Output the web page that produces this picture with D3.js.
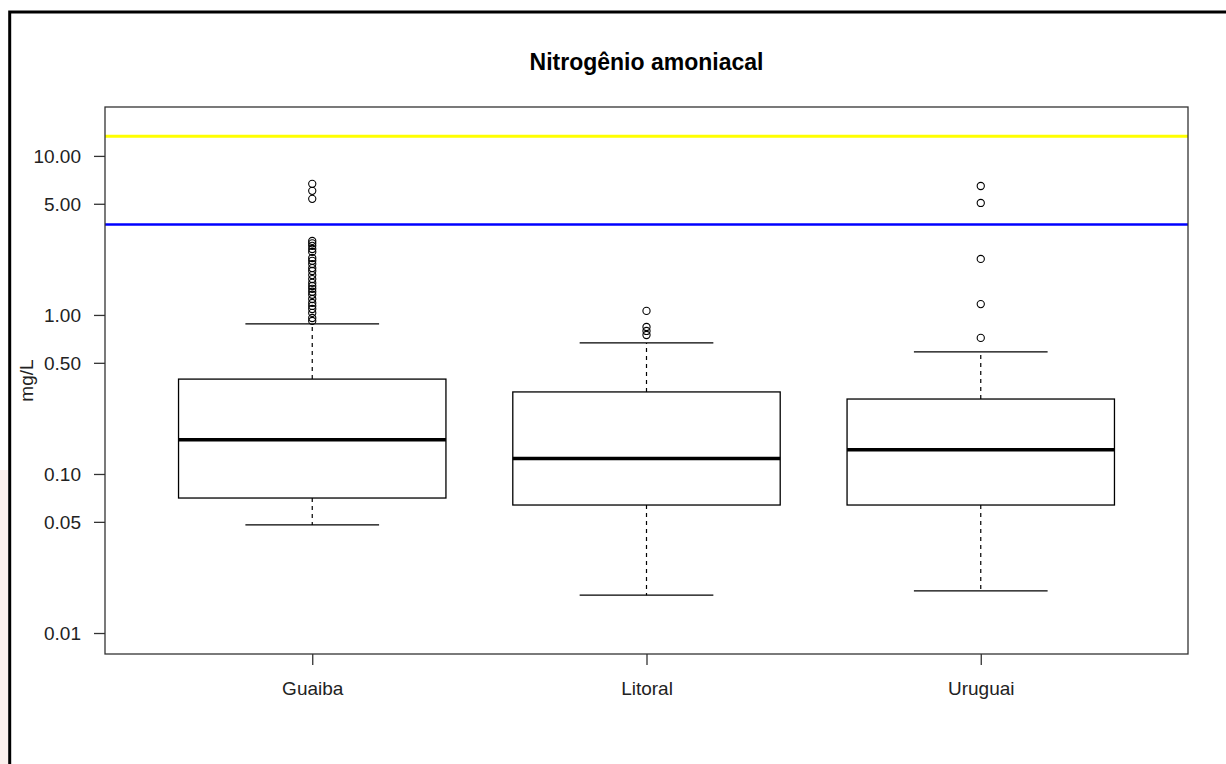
<!DOCTYPE html>
<html>
<head>
<meta charset="utf-8">
<script src="https://cdn.jsdelivr.net/npm/d3@7"></script>
<style>
  html, body { margin: 0; padding: 0; background: #ffffff; }
  svg { display: block; font-family: "Liberation Sans", Arial, sans-serif; }
</style>
</head>
<body>
<svg id="chart" width="1226" height="764"></svg>
<script>
// Sampling regions
const categories = ["Guaiba", "Litoral", "Uruguai"];

// Five-number summaries (mg/L): lower whisker, Q1, median, Q3, upper whisker
const whiskerLow  = [0.0478, 0.0173, 0.0184];
const quartile1   = [0.0706, 0.0638, 0.0638];
const medians     = [0.164, 0.125, 0.142];
const quartile3   = [0.395, 0.328, 0.296];
const whiskerHigh = [0.878, 0.667, 0.585];

// Outlying observations per region (mg/L)
const outliersGuaiba  = [6.67, 6.03, 5.37, 2.92, 2.82, 2.72, 2.60, 2.49, 2.28, 2.19, 2.09,
                         1.97, 1.89, 1.78, 1.68, 1.59, 1.52, 1.46, 1.40, 1.34, 1.26, 1.19,
                         1.14, 1.09, 1.03, 0.957, 0.917];
const outliersLitoral = [1.06, 0.84, 0.793, 0.748];
const outliersUruguai = [6.47, 5.06, 2.25, 1.17, 0.717];
const outliers = [outliersGuaiba, outliersLitoral, outliersUruguai];

// Reference limits (mg/L)
const limitValues = [13.3, 3.7];
const limitColors = ["#ffff00", "#0000ff"];
const limitWidths = [3, 2.5];

// Axis
const yTickValues = [0.01, 0.05, 0.1, 0.5, 1, 5, 10];
const yDomain = [0.00738, 20.3];

const title = "Nitrogênio amoniacal";
const yLabel = "mg/L";

const svg = d3.select("#chart");
const plot = { left: 105, top: 107, right: 1188, bottom: 654 };

// Page frame (top and left rules) and faint strip at the far left
svg.append("rect").attr("x", 0).attr("y", 470).attr("width", 8).attr("height", 294)
  .attr("fill", "#fbf0ed");
svg.append("path").attr("d", "M9.7,764 V12 H1226")
  .attr("fill", "none").attr("stroke", "#000").attr("stroke-width", 3);

const x = d3.scaleLinear().domain([0.38, 3.62]).range([plot.left, plot.right]);
const y = d3.scaleLog().domain(yDomain).range([plot.bottom, plot.top]);
const boxHalf = (x(1.4) - x(1)) ;
const capHalf = boxHalf / 2;

// Title
svg.append("text")
  .attr("x", (plot.left + plot.right) / 2).attr("y", 70)
  .attr("text-anchor", "middle").attr("font-weight", "bold")
  .attr("font-size", 23).attr("fill", "#000").text(title);

// Y axis
const yAxis = d3.axisLeft(y).tickValues(yTickValues)
  .tickFormat(d3.format(".2f")).tickSize(11).tickPadding(13).tickSizeOuter(0);
const gy = svg.append("g").attr("transform", `translate(${plot.left},0)`).call(yAxis);
gy.select(".domain").remove();
gy.selectAll(".tick line").attr("stroke", "#333").attr("stroke-width", 1.3);
gy.selectAll(".tick text").attr("font-size", 19).attr("fill", "#222")
  .attr("font-family", "Liberation Sans, Arial, sans-serif").attr("dy", "0.34em");

// X axis
const xAxis = d3.axisBottom(x).tickValues([1, 2, 3])
  .tickFormat((d, i) => categories[i]).tickSize(11).tickPadding(16).tickSizeOuter(0);
const gx = svg.append("g").attr("transform", `translate(0,${plot.bottom})`).call(xAxis);
gx.select(".domain").remove();
gx.selectAll(".tick line").attr("stroke", "#333").attr("stroke-width", 1.3);
gx.selectAll(".tick text").attr("font-size", 19).attr("fill", "#222")
  .attr("font-family", "Liberation Sans, Arial, sans-serif").attr("dy", "0.72em");

// Y label
svg.append("text")
  .attr("transform", `translate(33,${(plot.top + plot.bottom) / 2}) rotate(-90)`)
  .attr("text-anchor", "middle").attr("font-size", 19).attr("fill", "#222")
  .text(yLabel);

// Clip region for marks inside the plot
svg.append("clipPath").attr("id", "plotclip").append("rect")
  .attr("x", plot.left).attr("y", plot.top)
  .attr("width", plot.right - plot.left).attr("height", plot.bottom - plot.top);
const inner = svg.append("g").attr("clip-path", "url(#plotclip)");

// Boxes
categories.forEach((c, i) => {
  const cx = x(i + 1);
  const g = inner.append("g");
  // whiskers
  g.append("line").attr("x1", cx).attr("x2", cx)
    .attr("y1", y(quartile3[i])).attr("y2", y(whiskerHigh[i]))
    .attr("stroke", "#000").attr("stroke-width", 1.2).attr("stroke-dasharray", "4,4");
  g.append("line").attr("x1", cx).attr("x2", cx)
    .attr("y1", y(quartile1[i])).attr("y2", y(whiskerLow[i]))
    .attr("stroke", "#000").attr("stroke-width", 1.2).attr("stroke-dasharray", "4,4");
  // caps
  [whiskerHigh[i], whiskerLow[i]].forEach(v => {
    g.append("line").attr("x1", cx - capHalf).attr("x2", cx + capHalf)
      .attr("y1", y(v)).attr("y2", y(v)).attr("stroke", "#000").attr("stroke-width", 1.3);
  });
  // box
  g.append("rect").attr("x", cx - boxHalf).attr("y", y(quartile3[i]))
    .attr("width", boxHalf * 2).attr("height", y(quartile1[i]) - y(quartile3[i]))
    .attr("fill", "#fff").attr("stroke", "#000").attr("stroke-width", 1.3);
  // median
  g.append("line").attr("x1", cx - boxHalf).attr("x2", cx + boxHalf)
    .attr("y1", y(medians[i])).attr("y2", y(medians[i]))
    .attr("stroke", "#000").attr("stroke-width", 3.6);
  // outliers
  g.selectAll("circle.out").data(outliers[i]).join("circle")
    .attr("class", "out").attr("cx", cx).attr("cy", d => y(d)).attr("r", 3.6)
    .attr("fill", "none").attr("stroke", "#000").attr("stroke-width", 1.1);
});

// Reference limit lines
limitValues.forEach((v, i) => {
  inner.append("line").attr("x1", plot.left).attr("x2", plot.right)
    .attr("y1", y(v)).attr("y2", y(v))
    .attr("stroke", limitColors[i]).attr("stroke-width", limitWidths[i]);
});

// Plot frame
svg.append("rect").attr("x", plot.left).attr("y", plot.top)
  .attr("width", plot.right - plot.left).attr("height", plot.bottom - plot.top)
  .attr("fill", "none").attr("stroke", "#333").attr("stroke-width", 1.3);
</script>
</body>
</html>
